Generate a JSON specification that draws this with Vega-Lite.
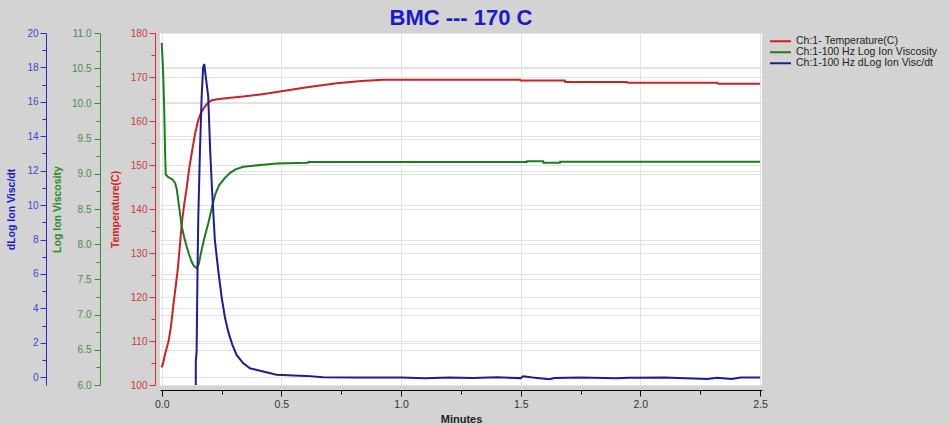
{
  "$schema": "https://vega.github.io/schema/vega-lite/v6.json",
  "width": 602,
  "height": 352,
  "autosize": {"type": "none"},
  "padding": {"left": 160, "top": 33, "right": 188, "bottom": 40},
  "background": "#d3d3d3",
  "title": {"text": "BMC --- 170 C", "color": "#1a1acc", "fontSize": 22, "font": "Liberation Sans", "fontWeight": "bold", "anchor": "middle", "offset": -2},
  "config": {
    "view": {"stroke": null, "fill": "white"},
    "font": "Liberation Sans",
    "axis": {"labelFont": "Liberation Sans", "titleFont": "Liberation Sans", "labelFontSize": 10, "titleFontSize": 10.5, "titleFontWeight": "bold", "labelOverlap": false, "gridColor": "#e3e3e3", "gridWidth": 1}
  },
  "datasets": {
    "temp": [
      {"t": 0.0, "v": 104.0}, {"t": 0.007, "v": 105.2}, {"t": 0.015, "v": 107.2}, {"t": 0.028, "v": 109.8},
      {"t": 0.038, "v": 113.0}, {"t": 0.049, "v": 118.2}, {"t": 0.058, "v": 122.2}, {"t": 0.067, "v": 126.2},
      {"t": 0.075, "v": 131.0}, {"t": 0.084, "v": 136.8}, {"t": 0.094, "v": 141.0}, {"t": 0.104, "v": 144.6},
      {"t": 0.115, "v": 149.2}, {"t": 0.128, "v": 153.5}, {"t": 0.14, "v": 157.2}, {"t": 0.153, "v": 160.3},
      {"t": 0.167, "v": 162.2}, {"t": 0.181, "v": 163.3}, {"t": 0.195, "v": 164.2}, {"t": 0.209, "v": 164.7},
      {"t": 0.24, "v": 165.0}, {"t": 0.278, "v": 165.2}, {"t": 0.348, "v": 165.6}, {"t": 0.42, "v": 166.1},
      {"t": 0.494, "v": 166.7}, {"t": 0.6, "v": 167.6}, {"t": 0.731, "v": 168.6}, {"t": 0.835, "v": 169.1},
      {"t": 0.926, "v": 169.4}, {"t": 1.0, "v": 169.4}, {"t": 1.497, "v": 169.4}, {"t": 1.5, "v": 169.2},
      {"t": 1.684, "v": 169.2}, {"t": 1.686, "v": 168.85}, {"t": 1.944, "v": 168.85}, {"t": 1.948, "v": 168.7},
      {"t": 2.321, "v": 168.7}, {"t": 2.325, "v": 168.45}, {"t": 2.5, "v": 168.45}
    ],
    "visc": [
      {"t": 0.0, "v": 10.86}, {"t": 0.004, "v": 10.6}, {"t": 0.007, "v": 10.34}, {"t": 0.011, "v": 9.86},
      {"t": 0.014, "v": 9.34}, {"t": 0.017, "v": 8.99}, {"t": 0.025, "v": 8.96}, {"t": 0.035, "v": 8.94},
      {"t": 0.045, "v": 8.92}, {"t": 0.056, "v": 8.87}, {"t": 0.063, "v": 8.78}, {"t": 0.069, "v": 8.63},
      {"t": 0.076, "v": 8.45}, {"t": 0.084, "v": 8.25}, {"t": 0.094, "v": 8.10}, {"t": 0.104, "v": 7.97},
      {"t": 0.115, "v": 7.85}, {"t": 0.125, "v": 7.75}, {"t": 0.135, "v": 7.69}, {"t": 0.146, "v": 7.66},
      {"t": 0.155, "v": 7.72}, {"t": 0.167, "v": 7.92}, {"t": 0.18, "v": 8.11}, {"t": 0.195, "v": 8.30},
      {"t": 0.21, "v": 8.52}, {"t": 0.223, "v": 8.70}, {"t": 0.24, "v": 8.84}, {"t": 0.264, "v": 8.94},
      {"t": 0.285, "v": 9.01}, {"t": 0.306, "v": 9.06}, {"t": 0.341, "v": 9.10}, {"t": 0.424, "v": 9.13},
      {"t": 0.48, "v": 9.145}, {"t": 0.61, "v": 9.158}, {"t": 0.612, "v": 9.167}, {"t": 1.525, "v": 9.167},
      {"t": 1.526, "v": 9.18}, {"t": 1.594, "v": 9.18}, {"t": 1.595, "v": 9.158}, {"t": 1.664, "v": 9.158},
      {"t": 1.665, "v": 9.172}, {"t": 2.5, "v": 9.172}
    ],
    "dvisc": [
      {"t": 0.1425, "v": -0.45}, {"t": 0.1426, "v": 0.9}, {"t": 0.146, "v": 1.5}, {"t": 0.15, "v": 6.5},
      {"t": 0.153, "v": 9.3}, {"t": 0.16, "v": 13.2}, {"t": 0.167, "v": 16.3}, {"t": 0.173, "v": 18.0},
      {"t": 0.178, "v": 18.2}, {"t": 0.183, "v": 17.6}, {"t": 0.1945, "v": 16.3}, {"t": 0.2025, "v": 13.2},
      {"t": 0.21, "v": 11.0}, {"t": 0.222, "v": 8.0}, {"t": 0.236, "v": 6.24}, {"t": 0.251, "v": 4.6},
      {"t": 0.264, "v": 3.5}, {"t": 0.278, "v": 2.65}, {"t": 0.295, "v": 1.9}, {"t": 0.313, "v": 1.3},
      {"t": 0.341, "v": 0.81}, {"t": 0.369, "v": 0.52}, {"t": 0.424, "v": 0.33}, {"t": 0.48, "v": 0.14},
      {"t": 0.55, "v": 0.1}, {"t": 0.606, "v": 0.08}, {"t": 0.674, "v": 0.0}, {"t": 0.8, "v": -0.02},
      {"t": 1.0, "v": -0.01}, {"t": 1.1, "v": -0.06}, {"t": 1.2, "v": -0.02}, {"t": 1.3, "v": -0.05},
      {"t": 1.4, "v": 0.0}, {"t": 1.5, "v": -0.05}, {"t": 1.51, "v": 0.06}, {"t": 1.55, "v": -0.02},
      {"t": 1.62, "v": -0.12}, {"t": 1.64, "v": -0.05}, {"t": 1.75, "v": -0.02}, {"t": 1.9, "v": -0.06},
      {"t": 1.95, "v": -0.03}, {"t": 2.1, "v": -0.02}, {"t": 2.28, "v": -0.1}, {"t": 2.32, "v": -0.03},
      {"t": 2.38, "v": -0.1}, {"t": 2.42, "v": -0.02}, {"t": 2.5, "v": -0.02}
    ]
  },
  "encoding": {
    "x": {
      "field": "t", "type": "quantitative",
      "scale": {"domain": [-0.007, 2.508], "nice": false, "zero": false},
      "axis": {
        "title": "Minutes", "titleColor": "#222222", "titleFontSize": 11, "titlePadding": 4,
        "values": [0, 0.25, 0.5, 0.75, 1, 1.25, 1.5, 1.75, 2, 2.25, 2.5],
        "format": ".1f",
        "labelExpr": "datum.value % 0.5 === 0 ? datum.label : ''",
        "labelFlush": false, "labelColor": "#333333", "labelFontSize": 10.5, "labelPadding": 3,
        "offset": 5, "domainColor": "#000000", "tickColor": "#000000",
        "tickSize": {"condition": {"test": "datum.value % 0.5 === 0", "value": 6}, "value": 4},
        "grid": true,
        "gridOpacity": {"condition": {"test": "datum.value % 0.5 === 0", "value": 1}, "value": 0}
      }
    }
  },
  "layer": [
    {
      "data": {"name": "temp"},
      "mark": {"type": "line", "strokeWidth": 2},
      "encoding": {
        "y": {
          "field": "v", "type": "quantitative",
          "scale": {"domain": [100, 180], "nice": false, "zero": false},
          "axis": {
            "orient": "left", "offset": 5, "title": "Temperature(C)", "titleColor": "#dd2222", "titlePadding": 10,
            "values": [100, 105, 110, 115, 120, 125, 130, 135, 140, 145, 150, 155, 160, 165, 170, 175, 180],
            "labelExpr": "datum.value % 10 === 0 ? datum.label : ''",
            "labelColor": "#c83c3c", "labelPadding": 2, "domainColor": "#cc3333", "tickColor": "#cc3333",
            "tickSize": {"condition": {"test": "datum.value % 10 === 0", "value": 6}, "value": 4},
            "grid": true,
            "gridOpacity": {"condition": {"test": "datum.value % 10 === 0", "value": 1}, "value": 0}
          }
        },
        "color": {
          "datum": "Ch:1- Temperature(C)", "type": "nominal",
          "scale": {
            "domain": ["Ch:1- Temperature(C)", "Ch:1-100 Hz Log Ion Viscosity", "Ch:1-100 Hz dLog Ion Visc/dt"],
            "range": ["#cc2222", "#1f7a1f", "#1c1c99"]
          },
          "legend": {
            "orient": "none", "legendX": 609, "legendY": 3, "title": null,
            "symbolType": "stroke", "symbolSize": 441, "symbolStrokeWidth": 2, "symbolOffset": 0,
            "clipHeight": 10.5,
            "labelFontSize": 10.5, "labelColor": "#222222", "labelFont": "Liberation Sans", "labelOffset": 4,
            "rowPadding": 0, "padding": 0, "offset": 0
          }
        }
      }
    },
    {
      "data": {"name": "visc"},
      "mark": {"type": "line", "strokeWidth": 2},
      "encoding": {
        "y": {
          "field": "v", "type": "quantitative",
          "scale": {"domain": [6, 11], "nice": false, "zero": false},
          "axis": {
            "orient": "left", "offset": 60, "title": "Log Ion Viscosity", "titleColor": "#2a8c2a", "titlePadding": 9,
            "values": [6, 6.25, 6.5, 6.75, 7, 7.25, 7.5, 7.75, 8, 8.25, 8.5, 8.75, 9, 9.25, 9.5, 9.75, 10, 10.25, 10.5, 10.75, 11],
            "format": ".1f",
            "labelExpr": "datum.value % 0.5 === 0 ? datum.label : ''",
            "labelColor": "#4a8a4a", "labelPadding": 3, "domainColor": "#3a8a3a", "tickColor": "#3a8a3a",
            "tickSize": {"condition": {"test": "datum.value % 0.5 === 0", "value": 6}, "value": 4},
            "grid": true,
            "gridOpacity": {"condition": {"test": "datum.value % 0.5 === 0", "value": 1}, "value": 0}
          }
        },
        "color": {"datum": "Ch:1-100 Hz Log Ion Viscosity", "type": "nominal"}
      }
    },
    {
      "data": {"name": "dvisc"},
      "mark": {"type": "line", "strokeWidth": 2},
      "encoding": {
        "y": {
          "field": "v", "type": "quantitative",
          "scale": {"domain": [-0.45, 20], "nice": false, "zero": false},
          "axis": {
            "orient": "left", "offset": 114, "title": "dLog Ion Visc/dt", "titleColor": "#1a1acc", "titlePadding": 10,
            "values": [0, 1, 2, 3, 4, 5, 6, 7, 8, 9, 10, 11, 12, 13, 14, 15, 16, 17, 18, 19, 20],
            "labelExpr": "datum.value % 2 === 0 ? datum.label : ''",
            "labelColor": "#4646c8", "labelPadding": 2, "domainColor": "#2a2acc", "tickColor": "#2a2acc",
            "tickSize": {"condition": {"test": "datum.value % 2 === 0", "value": 6}, "value": 4},
            "grid": true,
            "gridOpacity": {"condition": {"test": "datum.value % 2 === 0", "value": 1}, "value": 0}
          }
        },
        "color": {"datum": "Ch:1-100 Hz dLog Ion Visc/dt", "type": "nominal"}
      }
    }
  ],
  "resolve": {"scale": {"y": "independent"}}
}
